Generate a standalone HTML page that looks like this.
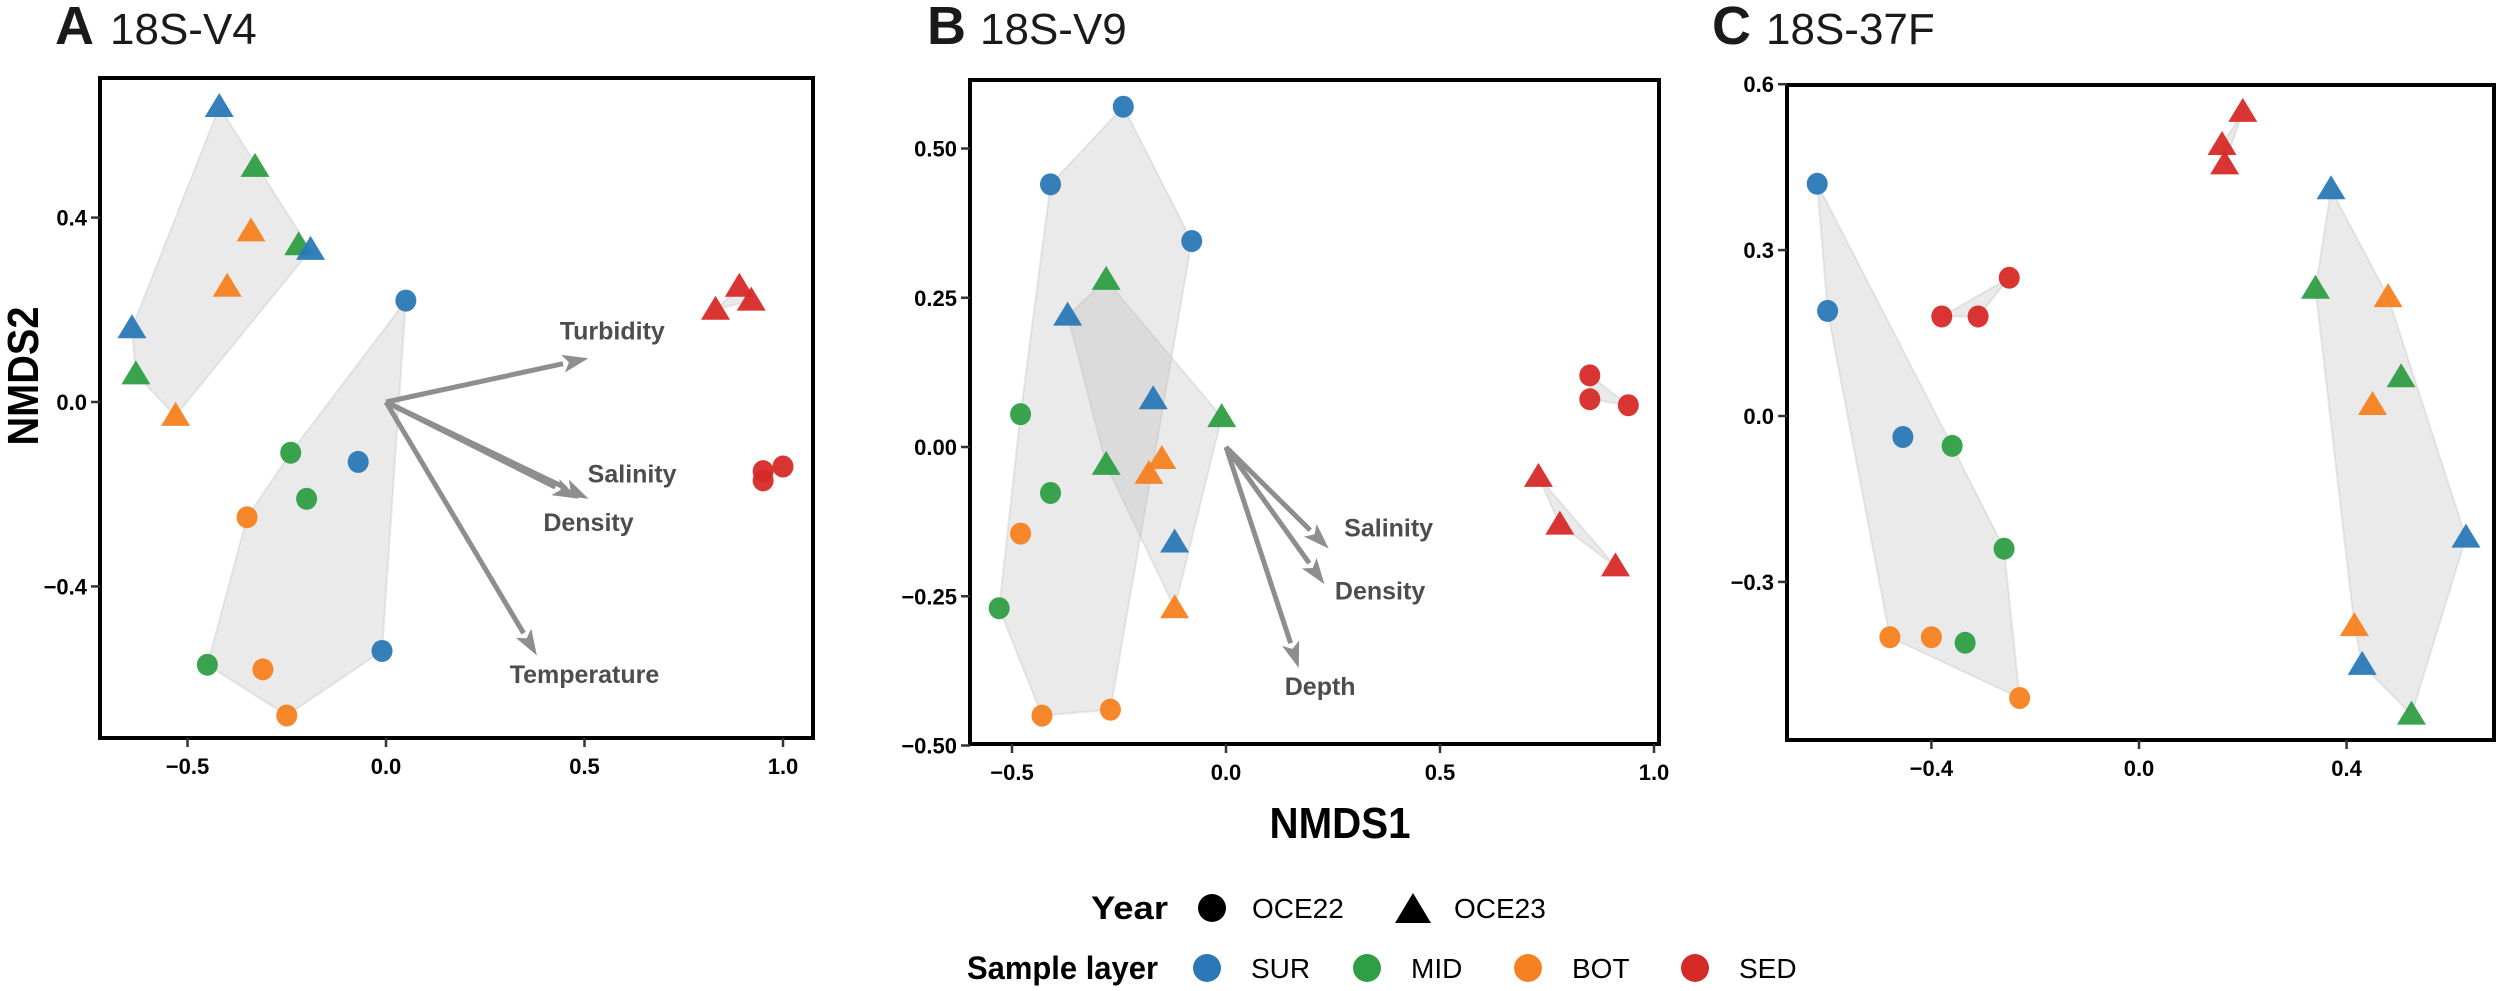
<!DOCTYPE html>
<html><head><meta charset="utf-8">
<style>
html,body{margin:0;padding:0;background:#fff;}
svg{display:block;}
text{font-family:"Liberation Sans",Arial,sans-serif;}
</style></head>
<body>
<svg id="fig" width="2500" height="991" viewBox="0 0 2500 991" xmlns="http://www.w3.org/2000/svg">
<g id="layer-hull"></g>
<g id="layer-arrow"></g>
<g id="layer-pt"></g>
<g id="layer-axes"></g>

<!-- Titles -->
<text x="55" y="44" font-size="54" font-weight="bold" fill="#1a1a1a">A</text>
<text x="110" y="44" font-size="44" fill="#1a1a1a">18S-V4</text>
<text x="927" y="44" font-size="54" font-weight="bold" fill="#1a1a1a">B</text>
<text x="980" y="44" font-size="44" fill="#1a1a1a">18S-V9</text>
<text x="1712" y="44" font-size="54" font-weight="bold" fill="#1a1a1a">C</text>
<text x="1766" y="44" font-size="44" fill="#1a1a1a">18S-37F</text>

<text transform="translate(38,376) rotate(-90)" text-anchor="middle" font-size="44" font-weight="bold" textLength="139" lengthAdjust="spacingAndGlyphs">NMDS2</text>
<text x="1340" y="838" text-anchor="middle" font-size="44" font-weight="bold" textLength="141" lengthAdjust="spacingAndGlyphs">NMDS1</text>

<!-- Legend -->
<g>
<text x="1168" y="919" text-anchor="end" font-size="32" font-weight="bold" textLength="77" lengthAdjust="spacingAndGlyphs">Year</text>
<circle cx="1212" cy="908" r="14" fill="#000"/>
<text x="1252" y="918" font-size="28">OCE22</text>
<polygon points="1413,893 1431,923 1395,923" fill="#000"/>
<text x="1454" y="918" font-size="28">OCE23</text>
<text x="967" y="979" font-size="32" font-weight="bold" textLength="191" lengthAdjust="spacingAndGlyphs">Sample layer</text>
<circle cx="1207" cy="968" r="14" fill="#2a78b6"/>
<text x="1251" y="978" font-size="28">SUR</text>
<circle cx="1367" cy="968" r="14" fill="#2f9e44"/>
<text x="1411" y="978" font-size="28">MID</text>
<circle cx="1528" cy="968" r="14" fill="#f58220"/>
<text x="1572" y="978" font-size="28">BOT</text>
<circle cx="1695" cy="968" r="14" fill="#d62a28"/>
<text x="1739" y="978" font-size="28">SED</text>
</g>
</svg>
<script>
// ---------- Panel A data (18S-V4) ----------
const aX = [-0.42,-0.33,-0.34,-0.22,-0.19,-0.40,-0.64,-0.63,-0.53, 0.05,-0.24,-0.07,-0.20,-0.35,-0.45,-0.31,-0.25,-0.01, 0.83,0.89,0.92, 0.95,1.00,0.95];
const aY = [ 0.64, 0.51, 0.37, 0.34, 0.33, 0.25, 0.16, 0.06,-0.03, 0.22,-0.11,-0.13,-0.21,-0.25,-0.57,-0.58,-0.68,-0.54, 0.20,0.25,0.22,-0.15,-0.14,-0.17];
const aShape = ['t','t','t','t','t','t','t','t','t','c','c','c','c','c','c','c','c','c','t','t','t','c','c','c'];
const aLayer = ['SUR','MID','BOT','MID','SUR','BOT','SUR','MID','BOT','SUR','MID','SUR','MID','BOT','MID','BOT','BOT','SUR','SED','SED','SED','SED','SED','SED'];
const aVecNames = ['Turbidity','Salinity','Density','Temperature'];
const aVecX = [0.51,0.51,0.485,0.38];
const aVecY = [0.095,-0.21,-0.21,-0.55];
const aLabX = [0.57,0.62,0.51,0.50];
const aLabY = [0.155,-0.155,-0.26,-0.59];
const aXTicks = [-0.5,0.0,0.5,1.0];
const aXTickLabels = ['\u22120.5','0.0','0.5','1.0'];
const aYTicks = [0.4,0.0,-0.4];
const aYTickLabels = ['0.4','0.0','\u22120.4'];

// ---------- Panel B data (18S-V9) ----------
const bX = [-0.41,-0.24,-0.08,-0.48,-0.41,-0.48,-0.53,-0.43,-0.27, -0.28,-0.37,-0.17,-0.01,-0.28,-0.15,-0.18,-0.12,-0.12, 0.85,0.85,0.94, 0.73,0.78,0.91];
const bY = [ 0.44, 0.57, 0.345, 0.055,-0.077,-0.145,-0.27,-0.45,-0.44, 0.28,0.22,0.08,0.05,-0.03,-0.02,-0.045,-0.16,-0.27, 0.12,0.08,0.07,-0.05,-0.13,-0.20];
const bShape = ['c','c','c','c','c','c','c','c','c','t','t','t','t','t','t','t','t','t','c','c','c','t','t','t'];
const bLayer = ['SUR','SUR','SUR','MID','MID','BOT','MID','BOT','BOT','MID','SUR','SUR','MID','MID','BOT','BOT','SUR','BOT','SED','SED','SED','SED','SED','SED'];
const bVecNames = ['Salinity','Density','Depth'];
const bVecX = [0.24,0.23,0.17];
const bVecY = [-0.17,-0.23,-0.37];
const bLabX = [0.38,0.36,0.22];
const bLabY = [-0.135,-0.24,-0.40];
const bXTicks = [-0.5,0.0,0.5,1.0];
const bXTickLabels = ['\u22120.5','0.0','0.5','1.0'];
const bYTicks = [0.5,0.25,0.0,-0.25,-0.5];
const bYTickLabels = ['0.50','0.25','0.00','\u22120.25','\u22120.50'];

// ---------- Panel C data (18S-37F) ----------
const cX = [-0.62,-0.60,-0.455,-0.36,-0.26,-0.48,-0.40,-0.335,-0.23, -0.38,-0.31,-0.25, 0.20,0.16,0.165, 0.37,0.34,0.48,0.505,0.45,0.63,0.415,0.43,0.525];
const cY = [ 0.42, 0.19,-0.038,-0.054,-0.24,-0.40,-0.40,-0.41,-0.51, 0.18,0.18,0.25, 0.55,0.49,0.455, 0.41,0.23,0.215,0.07,0.02,-0.22,-0.38,-0.45,-0.54];
const cShape = ['c','c','c','c','c','c','c','c','c','c','c','c','t','t','t','t','t','t','t','t','t','t','t','t'];
const cLayer = ['SUR','SUR','SUR','MID','MID','BOT','BOT','MID','BOT','SED','SED','SED','SED','SED','SED','SUR','MID','BOT','MID','BOT','SUR','BOT','SUR','MID'];
const cXTicks = [-0.4,0.0,0.4];
const cXTickLabels = ['\u22120.4','0.0','0.4'];
const cYTicks = [0.6,0.3,0.0,-0.3];
const cYTickLabels = ['0.6','0.3','0.0','\u22120.3'];

const COLORS = {SUR:'#2a78b6', MID:'#2f9e44', BOT:'#f58220', SED:'#d62a28'};
const NS = 'http://www.w3.org/2000/svg';
function mk(tag, attrs, parent){
  const e = document.createElementNS(NS, tag);
  for (const k in attrs) e.setAttribute(k, attrs[k]);
  parent.appendChild(e);
  return e;
}
const gHull = document.getElementById('layer-hull');
const gArrow = document.getElementById('layer-arrow');
const gPt = document.getElementById('layer-pt');
const gAx = document.getElementById('layer-axes');

function hull(pts){
  pts = pts.slice().sort((a,b)=>a[0]-b[0]||a[1]-b[1]);
  if (pts.length < 3) return pts;
  const cr=(o,a,b)=>(a[0]-o[0])*(b[1]-o[1])-(a[1]-o[1])*(b[0]-o[0]);
  const lo=[],up=[];
  for (const p of pts){ while(lo.length>=2&&cr(lo[lo.length-2],lo[lo.length-1],p)<=0) lo.pop(); lo.push(p); }
  for (let i=pts.length-1;i>=0;i--){ const p=pts[i]; while(up.length>=2&&cr(up[up.length-2],up[up.length-1],p)<=0) up.pop(); up.push(p); }
  up.pop(); lo.pop();
  return lo.concat(up);
}

function panel(cfg){
  const {id,L,R,T,B,x0,xs,y0,ys,X,Y,S,Lay,xt,xtl,yt,ytl} = cfg;
  const sx = v => x0 + xs*v;
  const sy = v => y0 - ys*v;
  // hulls
  const groups = {};
  X.forEach((v,i)=>{ const k=S[i]+(Lay[i]==='SED'?'-sed':'-water'); (groups[k]=groups[k]||[]).push([sx(v),sy(Y[i])]); });
  for (const k in groups){
    const h = hull(groups[k]);
    if (h.length < 2) continue;
    const p = mk('polygon',{points:h.map(q=>q.join(',')).join(' '), fill:'#b8b8b8', 'fill-opacity':'0.3', stroke:'#b8b8b8','stroke-opacity':'0.3','stroke-width':'2'}, gHull);
    
    
  }
  // arrows
  if (cfg.vn){
    cfg.vn.forEach((nm,i)=>{
      const xa=sx(0), ya=sy(0), xb=sx(cfg.vx[i]), yb=sy(cfg.vy[i]);
      const dx=xb-xa, dy=yb-ya, len=Math.hypot(dx,dy), ux=dx/len, uy=dy/len;
      const hl=26, hw=9;
      const bx=xb-ux*hl, by=yb-uy*hl;
      const ln = mk('line',{x1:xa,y1:ya,x2:bx,y2:by,stroke:'#8e8e8e','stroke-width':'5'}, gArrow);
      
      
      const hd = mk('polygon',{points:`${xb},${yb} ${bx-uy*hw},${by+ux*hw} ${bx+ux*6},${by+uy*6} ${bx+uy*hw},${by-ux*hw}`, fill:'#8e8e8e'}, gArrow);
      
      
      const t = mk('text',{x:sx(cfg.lx[i]), y:sy(cfg.ly[i])+9, 'text-anchor':'middle','font-size':'25','font-weight':'bold',fill:'#4d4d4d'}, gArrow);
      t.textContent = nm;
      
      
    });
  }
  // points
  X.forEach((v,i)=>{
    const cx=sx(v), cy=sy(Y[i]), col=COLORS[Lay[i]];
    let e;
    if (S[i]==='c') e = mk('ellipse',{cx:cx,cy:cy,rx:10.5,ry:11,fill:col,'fill-opacity':'0.95'}, gPt);
    else e = mk('polygon',{points:`${cx},${cy-14} ${cx+14.5},${cy+10} ${cx-14.5},${cy+10}`, fill:col,'fill-opacity':'0.95'}, gPt);
    
    
  });
  // frame
  const fr = mk('rect',{x:L,y:T,width:R-L,height:B-T,fill:'none',stroke:'#000','stroke-width':'4'}, gAx);
  
  
  xt.forEach((v,i)=>{
    const x=sx(v);
    const tk = mk('line',{x1:x,y1:B,x2:x,y2:B+9,stroke:'#333','stroke-width':'2.5'}, gAx);
    
    
    const t = mk('text',{x:x,y:B+36,'text-anchor':'middle','font-size':'22','font-weight':'bold'}, gAx);
    t.textContent = xtl[i];
    
    
  });
  yt.forEach((v,i)=>{
    const y=sy(v);
    const tk = mk('line',{x1:L-9,y1:y,x2:L,y2:y,stroke:'#333','stroke-width':'2.5'}, gAx);
    
    
    const t = mk('text',{x:L-13,y:y+8,'text-anchor':'end','font-size':'22','font-weight':'bold'}, gAx);
    t.textContent = ytl[i];
    
    
  });
}

panel({id:'panel-a',L:100,R:813,T:78,B:738,x0:386,xs:397,y0:402,ys:461,X:aX,Y:aY,S:aShape,Lay:aLayer,
  vn:aVecNames,vx:aVecX,vy:aVecY,lx:aLabX,ly:aLabY,xt:aXTicks,xtl:aXTickLabels,yt:aYTicks,ytl:aYTickLabels});
panel({id:'panel-b',L:970,R:1659,T:80,B:744,x0:1226,xs:428,y0:447,ys:597,X:bX,Y:bY,S:bShape,Lay:bLayer,
  vn:bVecNames,vx:bVecX,vy:bVecY,lx:bLabX,ly:bLabY,xt:bXTicks,xtl:bXTickLabels,yt:bYTicks,ytl:bYTickLabels});
panel({id:'panel-c',L:1787,R:2494,T:85,B:740,x0:2139,xs:519,y0:416,ys:553,X:cX,Y:cY,S:cShape,Lay:cLayer,
  xt:cXTicks,xtl:cXTickLabels,yt:cYTicks,ytl:cYTickLabels});
</script>
</body></html>
